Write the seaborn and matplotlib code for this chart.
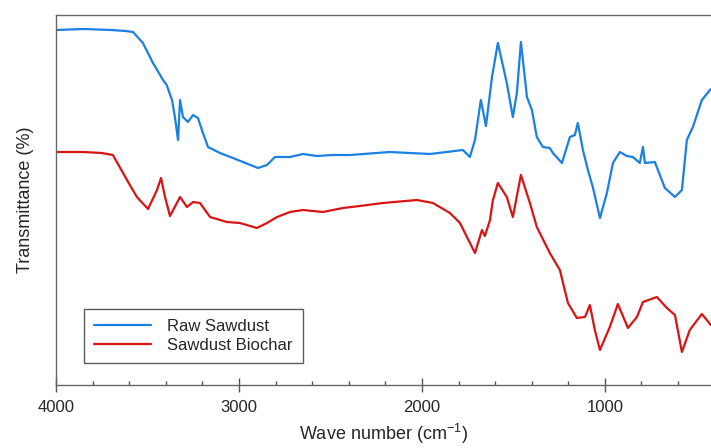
import numpy as np
import pandas as pd
import matplotlib
matplotlib.use("Agg")
import matplotlib.pyplot as plt
from matplotlib.ticker import MultipleLocator, NullLocator
import seaborn as sns

# wave numbers (cm-1) and relative transmittance
raw_wn = [4000, 3850, 3700, 3620, 3579, 3525, 3470, 3415, 3395, 3366, 3350, 3333,
          3322, 3306, 3279, 3251, 3224, 3197, 3169, 3104, 3033, 2978, 2896, 2847,
          2803, 2721, 2650, 2574, 2486, 2393, 2175, 1956, 1776, 1738, 1710, 1678,
          1650, 1617, 1585, 1536, 1503, 1481, 1459, 1426, 1399, 1372, 1339, 1301,
          1284, 1235, 1191, 1164, 1148, 1120, 1093, 1066, 1027, 989, 956, 918,
          880, 847, 809, 792, 781, 727, 672, 617, 579, 552, 519, 470, 421]
raw_t = [355, 356, 355, 354, 353, 342, 322, 305, 300, 285, 268, 245,
         285, 268, 263, 270, 267, 252, 238, 232, 227, 223, 217, 220,
         228, 228, 231, 229, 230, 230, 233, 231, 235, 228, 245, 285,
         259, 308, 342, 302, 268, 292, 343, 288, 275, 248, 238, 237,
         232, 222, 248, 250, 262, 235, 215, 198, 167, 192, 222, 233,
         229, 228, 222, 238, 222, 223, 197, 188, 195, 245, 258, 285, 296]

char_wn = [4000, 3850, 3750, 3689, 3612, 3558, 3497, 3448, 3426, 3404, 3377, 3322,
           3284, 3251, 3213, 3158, 3066, 2995, 2902, 2847, 2792, 2721, 2650, 2541,
           2432, 2339, 2213, 2027, 1940, 1847, 1792, 1754, 1710, 1672, 1656, 1628,
           1612, 1585, 1536, 1503, 1459, 1410, 1372, 1301, 1246, 1202, 1153, 1109,
           1082, 1055, 1027, 973, 929, 874, 825, 792, 716, 661, 617, 579,
           536, 470, 421]
char_t = [233, 233, 232, 230, 205, 188, 176, 195, 207, 188, 169, 188,
          178, 183, 182, 168, 163, 162, 157, 162, 168, 173, 175, 173,
          177, 179, 182, 185, 182, 172, 162, 148, 132, 155, 149, 165,
          185, 202, 188, 168, 210, 182, 158, 132, 115, 82, 67, 68,
          80, 55, 35, 58, 81, 57, 68, 83, 88, 77, 70, 33,
          55, 71, 60]

labels = ["Raw Sawdust", "Sawdust Biochar"]
colors = ["#1a80e2", "#d81414"]

df = pd.concat([
    pd.DataFrame({"wn": raw_wn, "t": raw_t, "sample": labels[0]}),
    pd.DataFrame({"wn": char_wn, "t": char_t, "sample": labels[1]}),
], ignore_index=True)

sns.set_style("white")
plt.rcParams["font.family"] = ["Liberation Sans", "DejaVu Sans"]
plt.rcParams["mathtext.default"] = "regular"

fig = plt.figure(figsize=(7.11, 4.48), dpi=100)
ax = fig.add_axes([56 / 711, 63 / 448, 1 - 56 / 711, 370 / 448])

sns.lineplot(data=df, x="wn", y="t", hue="sample", palette=colors,
             sort=False, estimator=None, linewidth=1.6, ax=ax)

ax.set_xlim(4000, 420)
ax.set_ylim(0, 370)
ax.xaxis.set_major_locator(MultipleLocator(1000))
ax.xaxis.set_minor_locator(MultipleLocator(200))
ax.yaxis.set_major_locator(NullLocator())
ax.tick_params(axis="x", which="major", direction="inout", length=10, width=1,
               color="#555555", labelsize=12, pad=6, bottom=True)
ax.tick_params(axis="x", which="minor", direction="in", length=3, width=1,
               color="#555555", bottom=True)

for side in ["top", "left", "bottom"]:
    ax.spines[side].set_color("#666666")
    ax.spines[side].set_linewidth(1.0)
ax.spines["right"].set_visible(False)

ax.set_xlabel("Wave number (cm$^{-1}$)", fontsize=13, labelpad=5)
ax.set_ylabel("Transmittance (%)", fontsize=13, labelpad=16)

leg = ax.legend(loc="lower left", bbox_to_anchor=(0.043, 0.059), fontsize=12,
                frameon=True, fancybox=False, edgecolor="#333333",
                handlelength=3.4, borderpad=0.6, labelspacing=0.25,
                borderaxespad=0, handletextpad=1.0)
leg.get_frame().set_linewidth(1.0)
leg.set_title(None)

fig.savefig("out.png", dpi=100)
